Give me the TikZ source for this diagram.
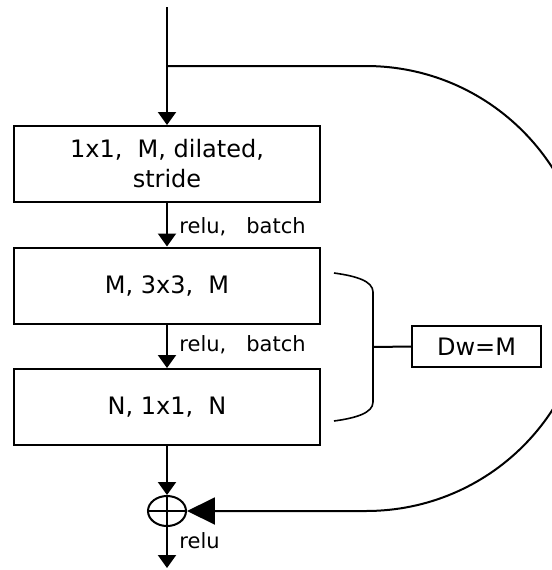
\documentclass[tikz,border=0pt]{standalone}
\usepackage{fontspec}
\setmainfont{DejaVu Sans}
\usetikzlibrary{arrows.meta, positioning, shapes.geometric}

\begin{document}
\begin{tikzpicture}[
  x=0.5pt, y=-0.5pt,
  layer/.style={draw, line width=1pt, minimum width=153pt, minimum height=38pt, inner sep=0pt, align=center, font=\fontsize{12}{15}\selectfont},
  tag/.style={draw, line width=1pt, minimum width=64.5pt, minimum height=20.5pt, inner sep=0pt, font=\fontsize{12}{15}\selectfont},
  label/.style={anchor=west, inner sep=0pt, font=\fontsize{10.5}{12}\selectfont},
  flow/.style={line width=1pt, -{Triangle[length=6.5pt, width=9pt]}},
  skip/.style={line width=1pt, -{Triangle[length=14pt, width=13.5pt]}},
]
\useasboundingbox (0,0) rectangle (552,570);
\clip (0,0) rectangle (552,570);

% 入力と分岐
\coordinate (in) at (167,7);
\coordinate (split) at (167,66);

% 層
\node[layer] (c1) at (167,164) {1x1,\ \ M, dilated,\\stride};
\node[layer] (c2) at (167,285.5) {M, 3x3,\ \ M};
\node[layer] (c3) at (167,407) {N, 1x1,\ \ N};

% 加算と出力
\node[ellipse, draw, line width=1pt, minimum width=19pt, minimum height=15pt, inner sep=0pt] (sum) at (167,511) {};
\draw[line width=1pt] (sum.north) -- (sum.south) (sum.west) -- (sum.east);
\coordinate (out) at (167,568);

% 主経路
\draw[line width=1pt] (in) -- (split);
\draw[flow] (split) -- (c1.north);
\draw[flow] (c1.south) -- (c2.north);
\draw[flow] (c2.south) -- (c3.north);
\draw[flow] (c3.south) -- (sum.north);
\draw[flow] (sum.south) -- (out);

\node[label] (l1) at (179,227) {relu,\ \ \ batch};
\node[label] (l2) at (179,345) {relu,\ \ \ batch};
\node[label] (l3) at (179,541) {relu};

% ショートカット（右端は画像の外）
\draw[skip] (split) -- (366,66) .. controls (489,66) and (588,166) .. (588,289)
  .. controls (588,412) and (489,511) .. (366,511) -- (sum.east);

% 括弧と Dw
\coordinate (bmid) at (373,347);
\node[tag] (dw) at (476.5,346.5) {Dw=M};
\draw[line width=0.8pt] (334,273) .. controls (356,276) and (373,281) .. (373,292) -- (373,402)
  .. controls (373,413) and (356,418) .. (334,421);
\draw[line width=1pt] (bmid) -- (dw.west);

\end{tikzpicture}
\end{document}
